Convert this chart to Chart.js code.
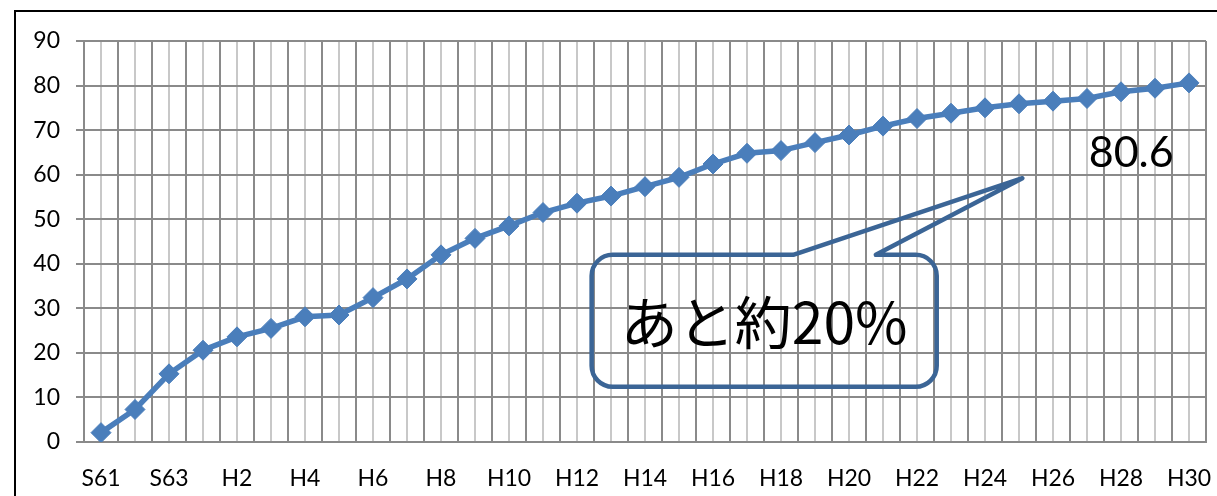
<!DOCTYPE html>
<html>
<head>
<meta charset="utf-8">
<script src="https://cdn.jsdelivr.net/npm/chart.js@4.4.1/dist/chart.umd.min.js"></script>
<style>
  html, body { margin: 0; padding: 0; background: #fff; }
  #wrap { width: 1217px; height: 496px; }
</style>
</head>
<body>
<div id="wrap"><canvas id="myChart"></canvas></div>
<script>
// years: Showa 61 .. Heisei 30
const years = ['S61', 'S62', 'S63',
  'H1', 'H2', 'H3', 'H4', 'H5', 'H6', 'H7', 'H8', 'H9', 'H10',
  'H11', 'H12', 'H13', 'H14', 'H15', 'H16', 'H17', 'H18', 'H19', 'H20',
  'H21', 'H22', 'H23', 'H24', 'H25', 'H26', 'H27', 'H28', 'H29', 'H30'];

const rate = [2.1, 7.3, 15.3,
  20.6, 23.6, 25.5, 28.1, 28.5, 32.4, 36.6, 42.0, 45.7, 48.5,
  51.5, 53.6, 55.2, 57.3, 59.4, 62.4, 64.8, 65.4, 67.2, 68.9,
  70.9, 72.6, 73.8, 75.0, 75.9, 76.5, 77.1, 78.6, 79.4, 80.6];

const yMin = 0, yMax = 90, yStep = 10;

const calloutText = 'あと約20%';
const lastLabel = rate[rate.length - 1].toFixed(1);

const darkGrid = '#8a8a8a';
const lightGrid = '#c8c8c8';
const lineBlue = '#4a7ebb';
const calloutBlue = '#3b6596';

const decorations = {
  id: 'decorations',
  beforeDraw(chart) {
    const ctx = chart.ctx;
    ctx.save();
    ctx.strokeStyle = '#000';
    ctx.lineWidth = 2;
    ctx.strokeRect(15, 11, 1400, 700);
    ctx.restore();
  },
  afterDatasetsDraw(chart) {
    const { ctx } = chart;
    const x = chart.scales.x, y = chart.scales.y;
    const px = i => x.getPixelForValue(i);
    const py = v => y.getPixelForValue(v);

    // rounded wedge callout
    const L = px(14.43), R = px(24.58), T = py(42), B = py(12.4), r = 21;
    const b1 = px(20.36), b2 = px(22.79), tx = px(27.1), ty = py(59.2);
    ctx.save();
    ctx.beginPath();
    ctx.moveTo(L + r, T);
    ctx.lineTo(b1, T);
    ctx.lineTo(tx, ty);
    ctx.lineTo(b2, T);
    ctx.arcTo(R, T, R, B, r);
    ctx.arcTo(R, B, L, B, r);
    ctx.arcTo(L, B, L, T, r);
    ctx.arcTo(L, T, R, T, r);
    ctx.closePath();
    ctx.strokeStyle = calloutBlue;
    ctx.lineWidth = 4.5;
    ctx.lineJoin = 'round';
    ctx.stroke();

    ctx.fillStyle = '#000';
    ctx.textAlign = 'center';
    ctx.textBaseline = 'middle';
    ctx.font = '57px "Noto Sans CJK JP"';
    ctx.fillText(calloutText, (L + R) / 2, (T + B) / 2 + 2);

    ctx.font = '43px Lato';
    ctx.fillText(lastLabel, px(30.3), py(64.9));
    ctx.restore();
  }
};

const ctx = document.getElementById('myChart');

new Chart(ctx, {
  type: 'line',
  data: {
    labels: years,
    datasets: [{
      data: rate,
      borderColor: lineBlue,
      backgroundColor: lineBlue,
      borderWidth: 5.5,
      pointStyle: 'rectRot',
      pointRadius: 10,
      pointBorderWidth: 1,
      pointBackgroundColor: lineBlue,
      pointBorderColor: lineBlue,
      tension: 0,
      xAxisID: 'x',
      yAxisID: 'y'
    }]
  },
  options: {
    responsive: true,
    maintainAspectRatio: false,
    animation: false,
    layout: { padding: { top: 41, right: 8, left: 0, bottom: 0 } },
    plugins: { legend: { display: false }, tooltip: { enabled: false } },
    scales: {
      x2: {
        type: 'category',
        position: 'bottom',
        offset: true,
        grid: { offset: false, color: lightGrid, lineWidth: 2, drawTicks: false },
        border: { display: false },
        ticks: { display: false, autoSkip: false },
        afterFit: s => { s.height = 0; s.paddingLeft = 0; s.paddingRight = 0; }
      },
      x: {
        type: 'category',
        position: 'bottom',
        offset: true,
        grid: { offset: true, color: darkGrid, lineWidth: 2, drawTicks: false },
        border: { color: darkGrid, width: 2 },
        ticks: {
          autoSkip: false,
          maxRotation: 0,
          padding: 23,
          color: '#000',
          font: { family: 'Lato', size: 23 },
          callback: function (val, i) { return i % 2 === 0 ? this.getLabelForValue(val) : ''; }
        },
        afterFit: s => { s.height = 54; s.paddingLeft = 0; s.paddingRight = 0; }
      },
      y: {
        min: yMin,
        max: yMax,
        grid: { color: darkGrid, lineWidth: 2, tickLength: 8 },
        border: { color: darkGrid, width: 2 },
        ticks: {
          stepSize: yStep,
          padding: 16,
          color: '#000',
          font: { family: 'Lato', size: 23 }
        },
        afterFit: s => { s.width = 84; s.paddingTop = 0; s.paddingBottom = 0; }
      }
    }
  },
  plugins: [decorations]
});
</script>
</body>
</html>
